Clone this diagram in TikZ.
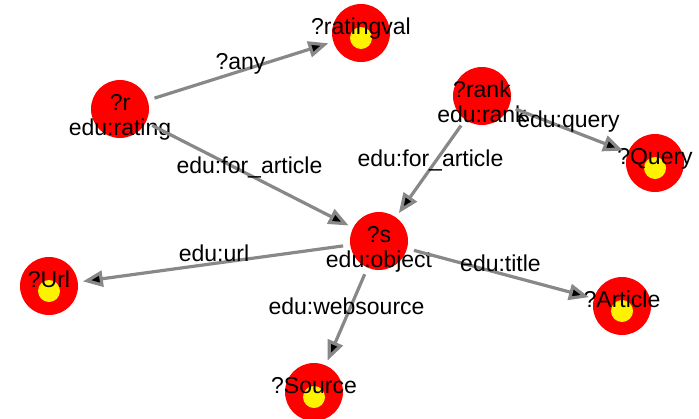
\documentclass[tikz,border=0pt]{standalone}
\usepackage{fontspec}
\setmainfont{Liberation Sans}
\usetikzlibrary{arrows.meta}
\definecolor{edgegray}{RGB}{136,136,136}
\tikzset{>={Triangle[length=20pt,width=16pt]},
  var/.style={circle, fill=red, minimum size=58pt, inner sep=0pt},
  val/.style={var, path picture={\fill[yellow]
      ([yshift=-5pt]path picture bounding box.center) circle (11pt);}},
  vtext/.style={font=\fontsize{23}{26}\selectfont, inner sep=0pt,
    text height=17pt, text depth=5pt},
  link/.style={->, draw=edgegray, line width=3.2pt, shorten <=7pt, shorten >=5pt},
  elabel/.style={vtext, yshift=8pt}}

\begin{document}
\begin{tikzpicture}[x=1pt,y=-1pt]
    \useasboundingbox (0,0) rectangle (699,418);

    % variables
    \node[var] (r) at (120,109) {};
    \node[var] (rank) at (482,96) {};
    \node[var] (s) at (379,241) {};
    \node[val] (rval) at (361,33) {};
    \node[val] (query) at (655,163) {};
    \node[val] (url) at (49,286) {};
    \node[val] (source) at (314,392) {};
    \node[val] (article) at (622,306) {};

    % names and types
    \node[vtext] (r-name) at ([yshift=5pt]r.center) {?r};
    \node[vtext] (r-type) at ([yshift=-20pt]r.center) {edu:rating};
    \node[vtext] (rank-name) at ([yshift=5pt]rank.center) {?rank};
    \node[vtext] (rank-type) at ([yshift=-20pt]rank.center) {edu:rank};
    \node[vtext] (s-name) at ([yshift=5pt]s.center) {?s};
    \node[vtext] (s-type) at ([yshift=-20pt]s.center) {edu:object};
    \node[vtext] (rval-name) at ([yshift=5pt]rval.center) {?ratingval};
    \node[vtext] (query-name) at ([yshift=5pt]query.center) {?Query};
    \node[vtext] (url-name) at ([yshift=5pt]url.center) {?Url};
    \node[vtext] (source-name) at ([yshift=5pt]source.center) {?Source};
    \node[vtext] (article-name) at ([yshift=5pt]article.center) {?Article};

    % triples
    \path[link] (r) edge node[elabel] {?any} (rval);
    \path[link] (r) edge node[elabel] {edu:for\_article} (s);
    \path[link] (rank) edge node[elabel] {edu:for\_article} (s);
    \path[link] (rank) edge node[elabel] {edu:query} (query);
    \path[link] (s) edge node[elabel] {edu:url} (url);
    \path[link] (s) edge node[elabel] {edu:websource} (source);
    \path[link] (s) edge node[elabel] {edu:title} (article);
  \end{tikzpicture}
\end{document}
